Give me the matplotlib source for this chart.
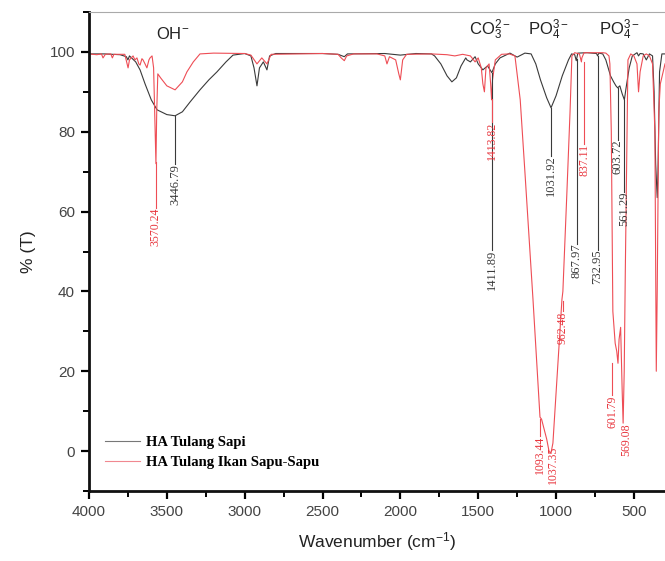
import numpy as np
import matplotlib
matplotlib.use("Agg")
import matplotlib.pyplot as plt
from matplotlib.ticker import MultipleLocator

plt.rcParams['font.family'] = ['Liberation Sans', 'DejaVu Sans']
plt.rcParams['mathtext.fontset'] = 'custom'
plt.rcParams['mathtext.rm'] = 'Liberation Sans'
plt.rcParams['mathtext.it'] = 'Liberation Sans:italic'
plt.rcParams['mathtext.bf'] = 'Liberation Sans:bold'

# ---- data: HA Tulang Sapi (black) ----
sapi_wn = [4000, 3900, 3800, 3760, 3750, 3740, 3700, 3672, 3640, 3600, 3563, 3500, 3447,
           3400, 3350, 3287, 3230, 3178, 3120, 3075, 3000, 2960, 2940, 2921, 2905, 2880,
           2857, 2840, 2800, 2500, 2400, 2360, 2340, 2100, 2000, 1900, 1800, 1780, 1740,
           1700, 1669, 1640, 1610, 1580, 1572, 1550, 1520, 1500, 1470, 1440, 1412, 1390,
           1360, 1296, 1250, 1200, 1160, 1130, 1100, 1060, 1032, 1000, 960, 920, 900, 880,
           870, 860, 800, 740, 733, 725, 700, 680, 650, 630, 615, 604, 590, 575, 561, 550,
           530, 510, 480, 470, 460, 440, 420, 400, 380, 370, 360, 350, 345, 335, 320, 300]
sapi_t = [99.5, 99.5, 99.3, 98.8, 98.0, 99.0, 97.5, 95.5, 92.0, 88.0, 85.5, 84.3, 84.0,
          85.0, 87.5, 90.5, 93.0, 95.0, 97.5, 99.2, 99.6, 99.0, 96.0, 91.5, 96.0, 97.5,
          95.5, 99.0, 99.6, 99.6, 99.4, 98.8, 99.5, 99.6, 99.2, 99.6, 99.5, 99.0, 97.0,
          94.0, 92.5, 93.5, 96.5, 98.5, 98.0, 97.5, 98.8, 97.0, 95.5, 96.5, 94.8, 97.0,
          98.5, 99.7, 98.7, 99.7, 99.5, 97.0, 93.0, 88.5, 86.0, 89.0, 94.0, 98.0, 99.5, 99.3,
          97.8, 99.7, 99.8, 99.6, 99.0, 99.7, 99.5, 98.0, 94.0, 92.5, 91.5, 91.0, 91.5, 89.5, 88.0, 91.0,
          96.0, 99.0, 99.8, 99.0, 99.6, 99.5, 98.0, 99.5, 99.0, 90.0, 72.0, 63.5, 70.0, 95.0, 99.5, 99.5]

# ---- data: HA Tulang Ikan Sapu-Sapu (red) ----
ikan_wn = [4000, 3950, 3920, 3910, 3895, 3860, 3850, 3840, 3770, 3755, 3749, 3740, 3717, 3705,
           3692, 3680, 3672, 3660, 3653, 3640, 3628, 3615, 3608, 3595, 3585, 3575, 3570, 3565,
           3558, 3540, 3500, 3447, 3400, 3371, 3330, 3287, 3200, 3000, 2960, 2921, 2890, 2857,
           2830, 2500, 2400, 2380, 2360, 2345, 2300, 2150, 2100, 2086, 2070, 2030, 2010, 2000,
           1985, 1960, 1800, 1700, 1650, 1600, 1550, 1520, 1500, 1480, 1470, 1460, 1450, 1430,
           1420, 1414, 1408, 1390, 1350, 1300, 1264, 1230, 1200, 1148, 1103, 1093, 1080, 1060,
           1045, 1037, 1030, 1020, 994, 970, 962, 956, 930, 910, 898, 880, 850, 840, 837, 834,
           820, 700, 680, 660, 654, 645, 635, 620, 610, 602, 595, 585, 575, 569, 562, 555, 545,
           538, 520, 500, 480, 470, 460, 440, 420, 400, 380, 365, 356, 350, 340, 330, 300]
ikan_t = [99.5, 99.3, 99.5, 98.5, 99.4, 99.5, 98.5, 99.4, 99.4, 97.0, 96.0, 98.0, 99.0, 98.0,
          98.5, 97.0, 96.7, 98.3, 98.0, 97.0, 96.0, 98.0, 98.5, 99.0, 96.0, 80.0, 72.0, 85.0,
          94.5, 93.5, 91.5, 90.5, 92.5, 95.0, 97.5, 99.5, 99.7, 99.6, 99.2, 97.0, 98.5, 97.0,
          99.4, 99.6, 99.4, 98.5, 97.8, 99.0, 99.5, 99.5, 99.0, 97.0, 98.8, 98.0, 94.5, 93.0,
          98.0, 99.4, 99.5, 99.3, 99.0, 99.4, 99.0, 97.5, 98.5, 96.0, 92.0, 90.0, 96.0, 97.0,
          92.0, 88.0, 93.0, 98.0, 99.4, 99.5, 99.0, 88.0, 70.0, 38.0, 8.5, 8.0, 6.0, 3.0,
          0.0, -0.5, 0.0, 2.0, 18.0, 33.0, 38.0, 40.0, 65.0, 85.0, 99.0, 99.8, 99.5, 98.0, 97.5, 98.5,
          99.8, 99.8, 99.7, 99.0, 97.0, 80.0, 35.0, 27.0, 25.0, 22.0, 28.0, 31.0, 15.0, 7.0, 20.0, 45.0, 75.0,
          98.0, 99.5, 99.0, 97.0, 90.0, 95.0, 99.0, 99.5, 99.0, 97.0, 80.0, 20.0, 40.0, 85.0, 92.0, 97.0]

# ---- peak labels ----
sapi_peaks = [3446.79, 1411.89, 1031.92, 867.97, 732.95, 603.72, 561.29]
sapi_text_top = [72, 50.5, 74, 52, 50.5, 78, 65]
ikan_peaks = [3570.24, 1413.82, 962.48, 837.11, 1093.44, 1037.35, 601.79, 569.08]
ikan_text_top = [61, 82.5, 35, 77, 3.75, 1.25, 14, 7]
ikan_text_wn = [3570.24, 1413.82, 955, 820, 1105, 1020, 640, 548]

group_labels = [r'OH$^{-}$', r'CO$_3^{2-}$', r'PO$_4^{3-}$', r'PO$_4^{3-}$']
group_wn = [3460, 1425, 1052, 590]

x_ticks = [4000, 3500, 3000, 2500, 2000, 1500, 1000, 500]
y_ticks = [0, 20, 40, 60, 80, 100]

series_names = ['HA Tulang Sapi', 'HA Tulang Ikan Sapu-Sapu']

BLACK = '#3a3a3a'
RED = '#ee4d55'
RED_TXT = '#e8343c'

fig = plt.figure(figsize=(6.65, 5.61), dpi=100)
ax = fig.add_axes([89/665, 70/561, (665-89)/665, 479/561])

l1, = ax.plot(sapi_wn, sapi_t, color=BLACK, lw=0.8, label=series_names[0])
l2, = ax.plot(ikan_wn, ikan_t, color=RED, lw=0.8, label=series_names[1])

def curve_at(wn_list, t_list, w):
    return float(np.interp(w, wn_list[::-1], t_list[::-1]))

for w, top in zip(sapi_peaks, sapi_text_top):
    y0 = curve_at(sapi_wn, sapi_t, w)
    ax.plot([w, w], [y0, top], color=BLACK, lw=0.8)
    ax.text(w, top, f'{w:.2f}', rotation=90, ha='center', va='top',
            fontsize=9, color=BLACK, family=['Liberation Serif'])
for w, tw, top in zip(ikan_peaks, ikan_text_wn, ikan_text_top):
    y0 = curve_at(ikan_wn, ikan_t, w)
    if y0 > top:
        ax.plot([tw, tw], [y0, top], color=RED, lw=0.8)
    ax.text(tw, top, f'{w:.2f}', rotation=90, ha='center', va='top',
            fontsize=8.5, color=RED_TXT, family=['Liberation Serif'])

for lab, w in zip(group_labels, group_wn):
    ax.text(w, 102.5, lab, ha='center', va='bottom', fontsize=12, color='#222222')

ax.set_xlim(4000, 300)
ax.set_ylim(-10, 110)
ax.set_xticks(x_ticks)
ax.set_yticks(y_ticks)
ax.xaxis.set_minor_locator(MultipleLocator(250))
ax.yaxis.set_minor_locator(MultipleLocator(10))
ax.tick_params(axis='both', which='major', direction='out', length=6, width=1.6,
               labelsize=11, labelcolor='#444444', pad=4)
ax.tick_params(axis='both', which='minor', direction='out', length=4, width=1.4)

for s in ['left', 'bottom']:
    ax.spines[s].set_linewidth(2)
    ax.spines[s].set_color('#111111')
ax.spines['top'].set_color('#aaaaaa')
ax.spines['top'].set_linewidth(0.8)
ax.spines['right'].set_visible(False)

ax.set_xlabel(r'Wavenumber (cm$^{-1}$)', fontsize=12.5, color='#222222', labelpad=8)
ax.set_ylabel('% (T)', fontsize=12.5, color='#222222', labelpad=10)

leg = ax.legend(handles=[l1, l2], loc='lower left', bbox_to_anchor=(0.005, 0.018),
                frameon=False, handlelength=2.4, handletextpad=0.4, labelspacing=0.45,
                prop={'family': 'Liberation Serif', 'weight': 'bold', 'size': 10.5})
for lh, c in zip(leg.get_lines(), ['#777777', '#f08890']):
    lh.set_color(c)

fig.savefig('out.png', dpi=100)
